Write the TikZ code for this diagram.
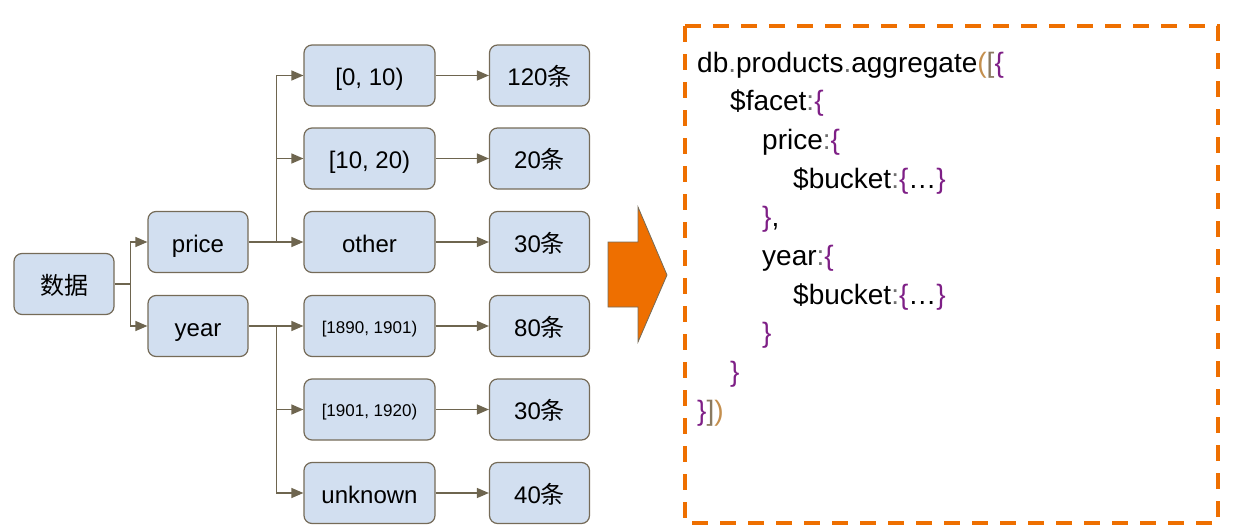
\documentclass[tikz,border=0pt]{standalone}
\usepackage{fontspec}
\setmainfont{Liberation Sans}
\newfontfamily\cjk{Noto Sans CJK SC}
\usetikzlibrary{arrows.meta}
\definecolor{boxfill}{HTML}{D2DFF0}
\definecolor{boxline}{HTML}{756B58}
\definecolor{conncol}{HTML}{6E654F}
\definecolor{orng}{HTML}{EE6F00}
\definecolor{cpurp}{HTML}{7E1F86}
\definecolor{ctan}{HTML}{C48F4E}
\definecolor{cbrn}{HTML}{8A7A60}
\definecolor{cgray}{HTML}{707070}
\newcommand\pu[1]{\textcolor{cpurp}{#1}}
\newcommand\gy[1]{\textcolor{cgray}{#1}}
\tikzset{
  box/.style={draw=boxline, fill=boxfill, rounded corners=8pt, line width=1.2pt,
    minimum width=100pt, minimum height=61pt, inner sep=0pt,
    text height=22pt, text depth=2pt,
    font=\fontsize{24}{28}\selectfont},
  midbox/.style={box, minimum width=131pt},
  small/.style={font=\fontsize{17}{20}\selectfont, text height=17pt, text depth=2.4pt},
  conn/.style={draw=conncol, line width=1.3pt},
  arr/.style={conn, -{Triangle[length=12pt,width=10pt]}},
  code/.style={anchor=base west, inner sep=0pt, font=\fontsize{28}{32}\selectfont},
}
\begin{document}
\begin{tikzpicture}[x=1pt,y=-1pt]
\useasboundingbox (0,0) rectangle (1237,530);
% left tree
\node[box] (d) at (64,284) {\cjk 数据};
\node[box] (price) at (198,242) {price};
\node[box] (year) at (198,326) {year};
\node[midbox] (p1) at (369.5,75.5) {[0, 10)};
\node[midbox] (p2) at (369.5,158.5) {[10, 20)};
\node[midbox] (p3) at (369.5,242) {other};
\node[midbox,small] (y1) at (369.5,326) {[1890, 1901)};
\node[midbox,small] (y2) at (369.5,409.5) {[1901, 1920)};
\node[midbox] (y3) at (369.5,493) {unknown};
\node[box] (c1) at (539.5,75.5) {120{\cjk 条}};
\node[box] (c2) at (539.5,158.5) {20{\cjk 条}};
\node[box] (c3) at (539.5,242) {30{\cjk 条}};
\node[box] (c4) at (539.5,326) {80{\cjk 条}};
\node[box] (c5) at (539.5,409.5) {30{\cjk 条}};
\node[box] (c6) at (539.5,493) {40{\cjk 条}};
% connectors
\path (d.east) ++(16,0) coordinate (j1);
\draw[conn] (d.east) -- (j1);
\draw[arr] (j1) |- (price.west);
\draw[arr] (j1) |- (year.west);
\path (price.east) ++(28,0) coordinate (j2);
\draw[arr] (price.east) -- (p3.west);
\draw[arr] (j2) |- (p1.west);
\draw[arr] (j2) |- (p2.west);
\path (year.east) ++(28,0) coordinate (j3);
\draw[arr] (year.east) -- (y1.west);
\draw[arr] (j3) |- (y2.west);
\draw[arr] (j3) |- (y3.west);
\draw[arr] (p1) -- (c1);
\draw[arr] (p2) -- (c2);
\draw[arr] (p3) -- (c3);
\draw[arr] (y1) -- (c4);
\draw[arr] (y2) -- (c5);
\draw[arr] (y3) -- (c6);
% big arrow
\draw[fill=orng, draw=boxline, line width=0.8pt]
  (608,242) -- (638,242) -- (638,207) -- (667,275) -- (638,342) -- (638,307) -- (608,307) -- cycle;
% dashed frame
\draw[orng, line width=3.5pt, dash pattern=on 16pt off 12pt] (685,26) rectangle (1218,523);
% code
\node[code] (l1) at (697,72) {db\gy{.}products\gy{.}aggregate\textcolor{ctan}{(}\textcolor{cbrn}{[}\pu{\{}};
\node[code] (l2) at (730,110.7) {\$facet\gy{:}\pu{\{}};
\node[code] (l3) at (762,149.4) {price\gy{:}\pu{\{}};
\node[code] (l4) at (793,188.1) {\$bucket\gy{:}\pu{\{}…\pu{\}}};
\node[code] (l5) at (762,226.8) {\pu{\}},};
\node[code] (l6) at (762,265.5) {year\gy{:}\pu{\{}};
\node[code] (l7) at (793,304.2) {\$bucket\gy{:}\pu{\{}…\pu{\}}};
\node[code] (l8) at (762,342.9) {\pu{\}}};
\node[code] (l9) at (730,381.6) {\pu{\}}};
\node[code] (l10) at (697,420.3) {\pu{\}}\textcolor{cbrn}{]}\textcolor{ctan}{)}};
\end{tikzpicture}
\end{document}
